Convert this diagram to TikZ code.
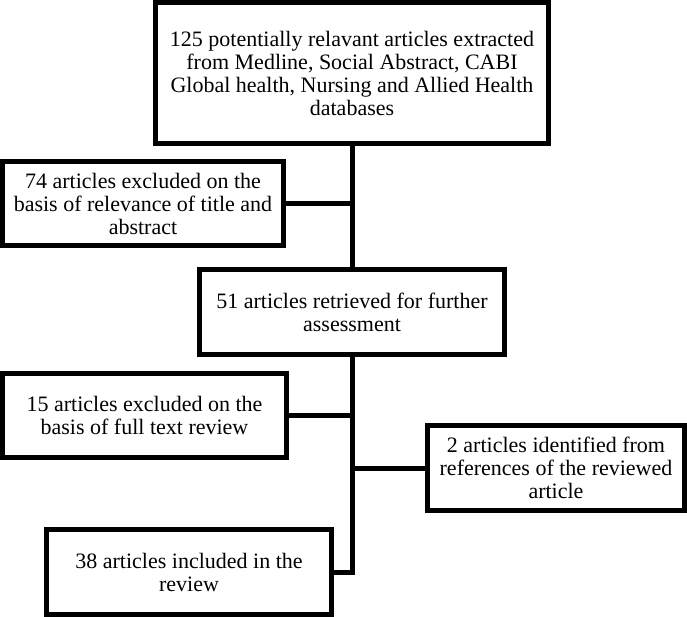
\documentclass[tikz,border=0pt]{standalone}
\usepackage{fontspec}
\setmainfont{Liberation Serif}
\begin{document}
\begin{tikzpicture}[x=1pt, y=-1pt, line width=5pt, line join=miter,
    every node/.style={rectangle, draw, line width=5pt, inner sep=0pt, align=center,
      font=\fontsize{22}{23}\selectfont}]
            \useasboundingbox (0,0) rectangle (687,617);

            % Boxes
            \node[minimum width=393, minimum height=141] (src) at (352,73)
              {125 potentially relavant articles extracted\\from Medline, Social Abstract, CABI\\Global health, Nursing and Allied Health\\databases};
            \node[minimum width=281, minimum height=84] (excl1) at (143,203.5)
              {74 articles excluded on the\\basis of relevance of title and\\abstract};
            \node[minimum width=305, minimum height=85] (retr) at (352,312)
              {51 articles retrieved for further\\assessment};
            \node[minimum width=284, minimum height=84] (excl2) at (144.5,415.5)
              {15 articles excluded on the\\basis of full text review};
            \node[minimum width=257, minimum height=85] (added) at (556,468)
              {2 articles identified from\\references of the reviewed\\article};
            \node[minimum width=285, minimum height=85] (incl) at (189,572)
              {38 articles included in the\\review};

            % Lines
            \draw (src.south) -- (retr.north);
            \draw (excl1.east) -- (excl1.east -| src.south);
            \draw (retr.south) |- (incl.east);
            \draw (excl2.east) -- (excl2.east -| retr.south);
            \draw (added.west) -- (added.west -| retr.south);
          \end{tikzpicture}
\end{document}
